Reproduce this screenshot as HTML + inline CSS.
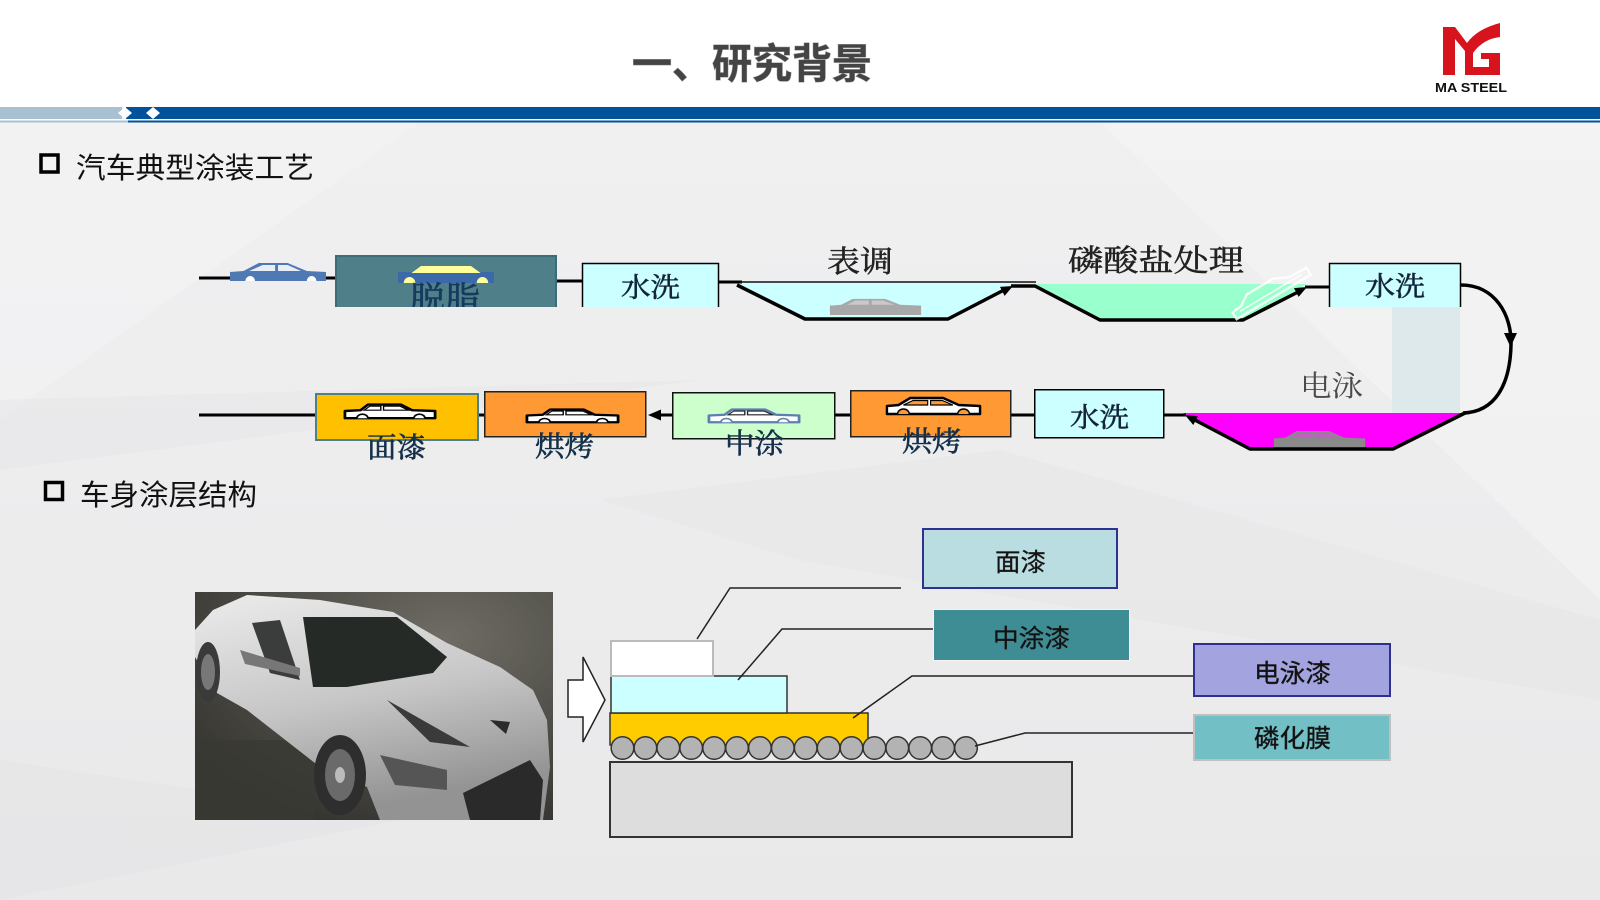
<!DOCTYPE html>
<html><head><meta charset="utf-8"><style>
html,body{margin:0;padding:0;background:#fff;}
svg{display:block;}
.sans{font-family:"Liberation Sans","Noto Sans CJK SC",sans-serif;}
.serif{font-family:"Liberation Serif","Noto Serif CJK SC",serif;}
.lbl{stroke:#15304a;stroke-width:0.6;}
</style></head><body>
<svg width="1600" height="900" viewBox="0 0 1600 900" xmlns="http://www.w3.org/2000/svg">
<defs>
  <linearGradient id="bg" x1="0" y1="0" x2="0" y2="1">
    <stop offset="0" stop-color="#f1f1f2"/><stop offset="1" stop-color="#e9e9ea"/>
  </linearGradient>
  <radialGradient id="photoBg" cx="0.7" cy="0.2" r="0.9">
    <stop offset="0" stop-color="#6e6c64"/><stop offset="1" stop-color="#34332f"/>
  </radialGradient>
  <linearGradient id="carBody" x1="0" y1="0" x2="0.3" y2="1">
    <stop offset="0" stop-color="#ececec"/><stop offset="0.55" stop-color="#c6c6c6"/><stop offset="1" stop-color="#939393"/>
  </linearGradient>
  <clipPath id="photoClip"><rect x="195" y="592" width="358" height="228"/></clipPath>
  <clipPath id="tuoClip"><rect x="335" y="255" width="222" height="52"/></clipPath>
</defs>

<!-- backgrounds -->
<rect x="0" y="0" width="1600" height="900" fill="url(#bg)"/>
<polygon points="0,122 420,122 0,420" fill="#f4f4f5" opacity="0.6"/>
<polygon points="0,400 700,380 0,470" fill="#e6e6e7" opacity="0.5"/>
<polygon points="1100,122 1600,122 1600,600" fill="#f5f5f6" opacity="0.5"/>
<polygon points="600,500 1000,450 1600,620 1600,700 800,560" fill="#e5e5e6" opacity="0.5"/>
<polygon points="0,760 400,820 0,900" fill="#e4e4e5" opacity="0.5"/>
<rect x="0" y="0" width="1600" height="107" fill="#ffffff"/>

<!-- header bar -->
<rect x="0" y="107" width="122" height="12" fill="#a7c1d3"/>
<rect x="126" y="107" width="1474" height="12" fill="#00529b"/>
<rect x="0" y="119" width="1600" height="1.5" fill="#ffffff"/>
<rect x="0" y="120.5" width="128" height="2" fill="#a7c1d3"/>
<rect x="128" y="120.5" width="1472" height="2" fill="#00529b"/>
<polygon points="118,113 125,107 132,113 125,119" fill="#ffffff"/>
<polygon points="146,113 153,107 160,113 153,119" fill="#ffffff"/>

<!-- title -->
<text x="632" y="78" class="sans" font-size="41" font-weight="bold" fill="#444" textLength="240" lengthAdjust="spacingAndGlyphs" style="paint-order:stroke" stroke="#9a9a9a" stroke-width="1">一、研究背景</text>

<!-- logo -->
<g transform="translate(1443,23)">
  <path d="M0,4 L12,4 L24,20 Q34,6 57,0 L57,14 Q40,16 30,30 L30,44 L46,44 L46,36 L38,36 L38,30 L57,30 L57,52 L22,52 L22,28 L12,16 L12,52 L0,52 Z" fill="#d7141d"/>
</g>
<text x="1435" y="92" class="sans" font-size="13" font-weight="bold" fill="#111" textLength="72" lengthAdjust="spacingAndGlyphs">MA STEEL</text>

<!-- section headings -->
<rect x="41" y="155" width="17" height="17" fill="none" stroke="#000" stroke-width="3.5"/>
<text x="76" y="178" class="sans" font-size="29" fill="#111" textLength="238" lengthAdjust="spacingAndGlyphs">汽车典型涂装工艺</text>
<rect x="45.5" y="482.5" width="17" height="17" fill="none" stroke="#000" stroke-width="3.5"/>
<text x="80" y="505" class="sans" font-size="29" fill="#111" textLength="177" lengthAdjust="spacingAndGlyphs">车身涂层结构</text>

<!-- ===== process diagram top row ===== -->
<line x1="199" y1="278" x2="336" y2="278" stroke="#000" stroke-width="3"/>
<g transform="translate(230,262) scale(0.96,1)">
  <path d="M0,10 L14,9 L30,1 L60,1 L80,9 L100,10 L100,19 L0,19 Z" fill="#4f79b3"/>
  <path d="M34,3 L47,3 L47,9 L20,9 Z M50,3 L60,3 L74,9 L50,9 Z" fill="#e8eef7"/>
  <path d="M16,19 a5,5 0 0 1 10,0 Z M80,19 a5,5 0 0 1 10,0 Z" fill="#ffffff"/>
</g>
<rect x="335" y="255" width="222" height="52" fill="#4f808a"/>
<path d="M336,307 L336,256 L556,256 L556,307" fill="none" stroke="#3d6c78" stroke-width="2"/>
<g transform="translate(398,265) scale(0.96,1)">
  <rect x="0" y="7" width="100" height="11" fill="#3c6aa8"/>
  <path d="M14,8 L24,1 L76,1 L86,8 Z" fill="#ffff99"/>
  <path d="M6,18 a6,6 0 0 1 12,0 Z M82,18 a6,6 0 0 1 12,0 Z" fill="#ffff99"/>
</g>
<g clip-path="url(#tuoClip)">
<text x="410" y="310" class="serif" font-size="33" fill="#173a5e" stroke="#173a5e" stroke-width="0.7" textLength="70" lengthAdjust="spacingAndGlyphs">脱脂</text>
</g>
<line x1="557" y1="281" x2="582" y2="281" stroke="#000" stroke-width="3"/>
<rect x="582" y="263" width="137" height="44" fill="#ccffff"/>
<path d="M582.5,307 L582.5,263.5 L718.5,263.5 L718.5,307" fill="none" stroke="#000" stroke-width="1.5"/>
<text x="621" y="297" class="serif lbl" font-size="27" fill="#1a1f2e" textLength="59" lengthAdjust="spacingAndGlyphs">水洗</text>

<!-- tank 1 -->
<polygon points="737,283 805,319 948,319 1013,283" fill="#ccffff"/>
<line x1="719" y1="282" x2="742" y2="282" stroke="#000" stroke-width="3"/>
<line x1="740" y1="282" x2="1036" y2="282" stroke="#111" stroke-width="1.6"/>
<g transform="translate(828,298) scale(0.95,0.85)">
  <path d="M2,9 L14,8 L26,1 L60,1 L76,8 L98,9 L98,20 L2,20 Z" fill="#a8a8a8"/>
  <path d="M20,8 L29,3 L43,3 L43,8 Z M46,3 L58,3 L70,8 L46,8 Z" fill="#c9c9c9"/>
</g>
<polyline points="737,285 805,319 948,319 1004,290" fill="none" stroke="#000" stroke-width="3.5" stroke-linejoin="round"/>
<polygon points="1013,286 1004.6,295.9 1000,286.9" fill="#000"/>
<text x="827" y="272" class="serif" font-size="30" fill="#222" stroke="#222" stroke-width="0.5" textLength="66" lengthAdjust="spacingAndGlyphs">表调</text>

<!-- tank 2 -->
<polygon points="1035,284 1100,320 1243,320 1307,284" fill="#99ffcc"/>
<polyline points="1011,286 1035,286 1100,320 1243,320 1298,292" fill="none" stroke="#000" stroke-width="3.5" stroke-linejoin="round"/>
<polygon points="1307,287 1298.6,296.9 1294,288.1" fill="#000"/>
<line x1="1305" y1="287" x2="1329" y2="287" stroke="#000" stroke-width="3"/>
<text x="1068" y="271" class="serif" font-size="30" fill="#222" stroke="#222" stroke-width="0.5" textLength="176" lengthAdjust="spacingAndGlyphs">磷酸盐处理</text>
<g transform="translate(1270,291) rotate(-31) translate(-45,-10) scale(0.9,1)" opacity="0.85">
  <path d="M2,9 L14,8 L26,1 L60,1 L76,8 L98,9 L98,17 L2,17 Z" fill="none" stroke="#ffffff" stroke-width="2.5"/>
  <line x1="10" y1="12" x2="90" y2="12" stroke="#ffffff" stroke-width="1.5"/>
</g>

<!-- 水洗 2 -->
<rect x="1392" y="307" width="68" height="106" fill="#dde9ea"/>
<rect x="1329" y="263" width="132" height="44" fill="#ccffff"/>
<path d="M1329.5,307 L1329.5,263.5 L1460.5,263.5 L1460.5,307" fill="none" stroke="#000" stroke-width="1.5"/>
<text x="1365" y="296" class="serif lbl" font-size="27" fill="#1a1f2e" textLength="60" lengthAdjust="spacingAndGlyphs">水洗</text>

<!-- loop curve -->
<path d="M1461,285 C1495,285 1512,315 1511,345 C1510,385 1495,412 1463,413" fill="none" stroke="#000" stroke-width="3.5"/>
<polygon points="1504,333 1517,333 1510.5,347" fill="#000"/>

<!-- magenta tank -->
<polygon points="1183,413 1250,449 1393,449 1465,413" fill="#ff00ff"/>
<g transform="translate(1272,430) scale(0.95,0.95)">
  <path d="M2,9 L14,8 L26,1 L60,1 L76,8 L98,9 L98,20 L2,20 Z" fill="#8a8a8a"/>
  <path d="M20,8 L29,3 L43,3 L43,8 Z M46,3 L58,3 L70,8 L46,8 Z" fill="#c060c0"/>
</g>
<polyline points="1465,413 1393,449 1250,449 1193,419" fill="none" stroke="#000" stroke-width="3.5" stroke-linejoin="round"/>
<polygon points="1185,415 1197.9,416.2 1193.3,425" fill="#000"/>
<text x="1300" y="396" class="serif" font-size="29" fill="#4a4a4a" textLength="63" lengthAdjust="spacingAndGlyphs">电泳</text>

<!-- ===== bottom row ===== -->
<line x1="199" y1="415" x2="316" y2="415" stroke="#000" stroke-width="3"/>
<line x1="1164" y1="415" x2="1186" y2="415" stroke="#000" stroke-width="3"/>
<line x1="1011" y1="415" x2="1034" y2="415" stroke="#000" stroke-width="3"/>
<line x1="835" y1="415" x2="850" y2="415" stroke="#000" stroke-width="3"/>
<line x1="658" y1="415" x2="672" y2="415" stroke="#000" stroke-width="3"/>
<polygon points="648,415 661,409.5 661,420.5" fill="#000"/>
<line x1="478" y1="415" x2="484" y2="415" stroke="#000" stroke-width="3"/>

<rect x="1034.75" y="389.75" width="129" height="48" fill="#ccffff" stroke="#000" stroke-width="1.5"/>
<text x="1070" y="427" class="serif lbl" font-size="27" fill="#1a1f2e" textLength="59" lengthAdjust="spacingAndGlyphs">水洗</text>

<rect x="850.75" y="390.75" width="160" height="46" fill="#ff9933" stroke="#222" stroke-width="1.5"/>
<g transform="translate(885,397) scale(0.97,1)">
  <path d="M2,9 L14,8 L26,1 L60,1 L76,8 L98,9 L98,17 L2,17 Z" fill="#ffffff" stroke="#000" stroke-width="2.5" stroke-linejoin="round"/>
  <path d="M19,8 L29,3.5 L44,3.5 L44,8 Z M47,3.5 L59,3.5 L70,8 L47,8 Z" fill="#ff9933" stroke="#000" stroke-width="1.2"/>
  <path d="M13,17 a6,5 0 0 1 12,0 M75,17 a6,5 0 0 1 12,0" fill="#ff9933" stroke="#000" stroke-width="1.5"/>
</g>
<text x="902" y="451" class="serif lbl" font-size="28" fill="#15304a" textLength="60" lengthAdjust="spacingAndGlyphs">烘烤</text>

<rect x="672.75" y="392.75" width="162" height="46" fill="#ccffcc" stroke="#111" stroke-width="1.5"/>
<g transform="translate(708,408) scale(0.92,0.75)">
  <path d="M1,10 L18,9 L26,2 L62,2 L74,9 L99,10 L99,19 L1,19 Z" fill="#ffffff" stroke="#5b7fae" stroke-width="3" stroke-linejoin="round"/>
  <path d="M22,9 L28,4 L40,4 L40,9 Z M43,4 L61,4 L70,9 L43,9 Z" fill="#ffffff" stroke="#222" stroke-width="1.5"/>
  <path d="M14,19 a6,5 0 0 1 12,0 M76,19 a6,5 0 0 1 12,0" fill="#ffffff" stroke="#5b7fae" stroke-width="2"/>
</g>
<text x="725" y="453" class="serif lbl" font-size="28" fill="#15304a" textLength="59" lengthAdjust="spacingAndGlyphs">中涂</text>

<rect x="484.75" y="391.75" width="161" height="45" fill="#ff9933" stroke="#222" stroke-width="1.5"/>
<g transform="translate(526,408) scale(0.93,0.75)">
  <path d="M1,10 L18,9 L26,2 L62,2 L74,9 L99,10 L99,19 L1,19 Z" fill="#ffffff" stroke="#000" stroke-width="3" stroke-linejoin="round"/>
  <path d="M22,9 L28,4 L40,4 L40,9 Z M43,4 L61,4 L70,9 L43,9 Z" fill="#ffffff" stroke="#000" stroke-width="1.5"/>
  <path d="M14,19 a6,5 0 0 1 12,0 M76,19 a6,5 0 0 1 12,0" fill="#ffffff" stroke="#000" stroke-width="2"/>
</g>
<text x="535" y="456" class="serif lbl" font-size="28" fill="#15304a" textLength="59" lengthAdjust="spacingAndGlyphs">烘烤</text>

<rect x="316" y="394" width="162" height="46" fill="#ffc000" stroke="#4f7f8a" stroke-width="2"/>
<g transform="translate(344,403) scale(0.92,0.8)">
  <path d="M1,10 L18,9 L26,2 L62,2 L74,9 L99,10 L99,19 L1,19 Z" fill="#ffffff" stroke="#000" stroke-width="3" stroke-linejoin="round"/>
  <path d="M22,9 L28,4 L40,4 L40,9 Z M43,4 L61,4 L70,9 L43,9 Z" fill="#ffffff" stroke="#000" stroke-width="1.5"/>
  <path d="M14,19 a6,5 0 0 1 12,0 M76,19 a6,5 0 0 1 12,0" fill="#ffffff" stroke="#000" stroke-width="2"/>
</g>
<text x="367" y="457" class="serif lbl" font-size="28" fill="#15304a" textLength="59" lengthAdjust="spacingAndGlyphs">面漆</text>

<!-- ===== car photo ===== -->
<g clip-path="url(#photoClip)">
  <rect x="195" y="592" width="358" height="228" fill="url(#photoBg)"/>
  <rect x="195" y="740" width="120" height="80" fill="#3a3934" opacity="0.8"/>
  <polygon points="213,610 247,595 320,600 393,612 447,643 500,667 533,690 547,720 550,767 543,820 380,820 367,787 320,767 247,710 217,693 195,657 195,630" fill="url(#carBody)"/>
  <polygon points="303,617 397,617 447,657 433,673 347,687 313,687" fill="#262a27"/>
  <polygon points="252,623 280,620 300,680 270,673" fill="#3a3d3b"/>
  <polygon points="240,650 300,668 300,676 245,664" fill="#777"/>
  <polygon points="387,700 470,747 430,742" fill="#3a3a3a"/>
  <polygon points="490,720 510,722 506,734" fill="#2a2a2a"/>
  <polygon points="380,755 447,770 447,790 395,785" fill="#555"/>
  <polygon points="463,793 530,760 543,780 540,820 470,820" fill="#2a2a2a"/>
  <ellipse cx="340" cy="775" rx="26" ry="40" fill="#2e2e2e"/>
  <ellipse cx="340" cy="775" rx="15" ry="26" fill="#6a6a6a"/>
  <ellipse cx="340" cy="775" rx="5" ry="8" fill="#bbb"/>
  <ellipse cx="208" cy="672" rx="12" ry="30" fill="#3a3a3a"/>
  <ellipse cx="208" cy="672" rx="7" ry="18" fill="#777"/>
</g>

<polygon points="568,680 583,680 583,657 605,700 583,742 583,717 568,717" fill="#ffffff" stroke="#222" stroke-width="1.5" stroke-linejoin="miter"/>

<!-- ===== layer diagram ===== -->
<rect x="610" y="762" width="462" height="75" fill="#dddddd" stroke="#333" stroke-width="2"/>
<rect x="610" y="713" width="258" height="32" fill="#ffcc00" stroke="#333" stroke-width="1.5"/>
<g fill="#b3b3b3" stroke="#333" stroke-width="1.5">
  <circle cx="622.5" cy="748" r="11.3"/><circle cx="645.4" cy="748" r="11.3"/><circle cx="668.3" cy="748" r="11.3"/><circle cx="691.2" cy="748" r="11.3"/>
  <circle cx="714.1" cy="748" r="11.3"/><circle cx="737" cy="748" r="11.3"/><circle cx="759.9" cy="748" r="11.3"/><circle cx="782.8" cy="748" r="11.3"/>
  <circle cx="805.7" cy="748" r="11.3"/><circle cx="828.6" cy="748" r="11.3"/><circle cx="851.5" cy="748" r="11.3"/><circle cx="874.4" cy="748" r="11.3"/>
  <circle cx="897.3" cy="748" r="11.3"/><circle cx="920.2" cy="748" r="11.3"/><circle cx="943.1" cy="748" r="11.3"/><circle cx="966" cy="748" r="11.3"/>
</g>
<rect x="611" y="676" width="176" height="37" fill="#ccffff" stroke="#333" stroke-width="1.5"/>
<rect x="611" y="641" width="102" height="35" fill="#ffffff" stroke="#bbbbbb" stroke-width="2"/>

<g fill="none" stroke="#222" stroke-width="1.5">
  <polyline points="697,639 730,588 901,588"/>
  <polyline points="738,680 782,629 934,629"/>
  <polyline points="853,718 912,676 1194,676"/>
  <polyline points="975,746 1025,733 1194,733"/>
</g>

<rect x="923" y="529" width="194" height="59" fill="#b9dde0" stroke="#2e3192" stroke-width="2"/>
<text x="995" y="571" class="sans" font-size="25" fill="#111" stroke="#333" stroke-width="0.4" textLength="51" lengthAdjust="spacingAndGlyphs">面漆</text>
<rect x="933.5" y="609.5" width="196" height="51" fill="#3e8c94" stroke="#f4f4f4" stroke-width="1"/>
<text x="993" y="647" class="sans" font-size="25" fill="#111" stroke="#222" stroke-width="0.4" textLength="77" lengthAdjust="spacingAndGlyphs">中涂漆</text>
<rect x="1194" y="644" width="196" height="52" fill="#a3a3e0" stroke="#2e3192" stroke-width="2"/>
<text x="1254" y="682" class="sans" font-size="25" fill="#111" stroke="#222" stroke-width="0.4" textLength="77" lengthAdjust="spacingAndGlyphs">电泳漆</text>
<rect x="1194" y="715" width="196" height="45" fill="#72bfc6" stroke="#c0c0c0" stroke-width="2"/>
<text x="1254" y="747" class="sans" font-size="25" fill="#111" stroke="#222" stroke-width="0.4" textLength="77" lengthAdjust="spacingAndGlyphs">磷化膜</text>
</svg>
</body></html>
